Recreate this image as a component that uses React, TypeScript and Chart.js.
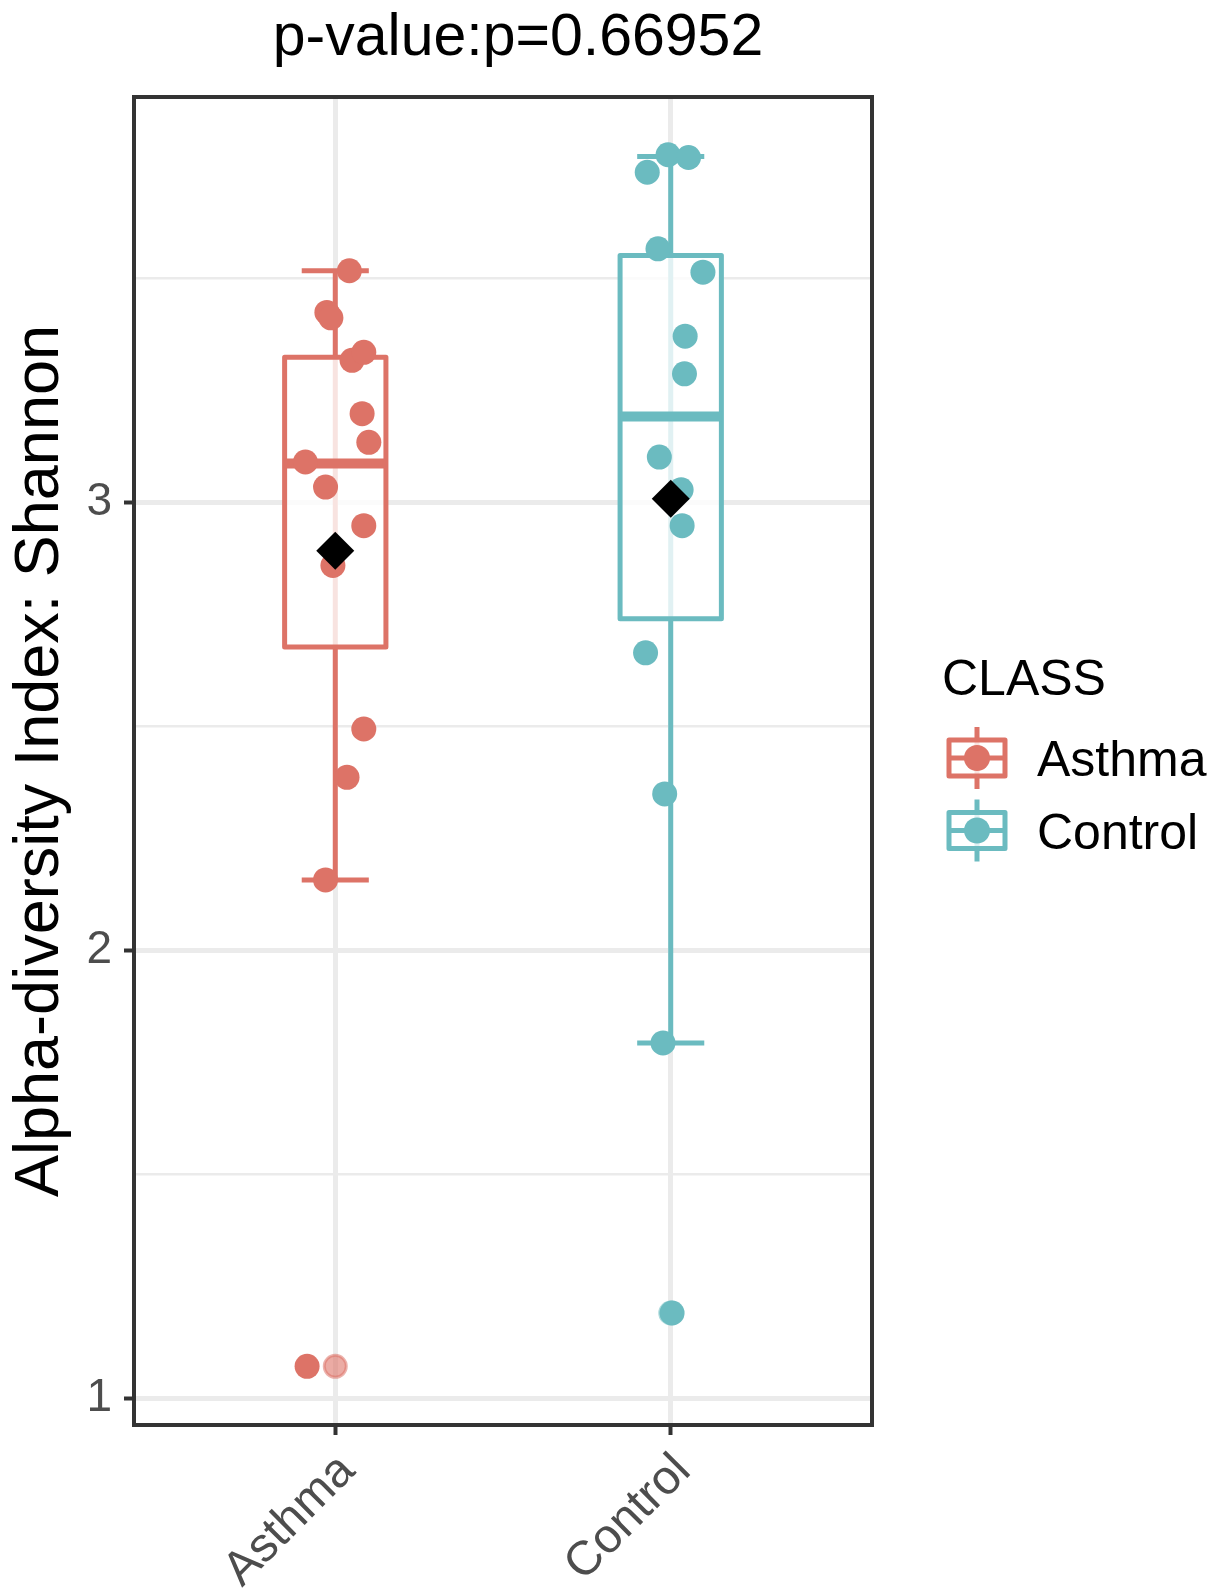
import React, { useEffect, useRef } from "react";
import { Chart, registerables } from "chart.js";
Chart.register(...registerables);

// ---------- data ----------
const categories = ["Asthma", "Control"];
const chartTitle = "p-value:p=0.66952";
const yAxisTitle = "Alpha-diversity Index: Shannon";
const legendTitle = "CLASS";

const yMajorTicks = [1, 2, 3];
const yMinorTicks = [1.5, 2.5, 3.5];
const xTicks = [1, 2];

// jittered sample points (x = category position + jitter, y = Shannon index)
const asthmaX = [1.042, 0.975, 0.987, 1.05, 1.085, 1.08, 1.1, 0.911, 0.971, 1.085, 0.993, 1.085, 1.035, 0.971, 0.916];
const asthmaY = [3.517, 3.424, 3.412, 3.317, 3.335, 3.198, 3.134, 3.09, 3.034, 2.948, 2.859, 2.494, 2.386, 2.157, 1.071];
const controlX = [1.992, 2.053, 1.93, 1.962, 2.096, 2.043, 2.041, 1.966, 2.031, 2.034, 1.925, 1.982, 1.977, 2.004];
const controlY = [3.776, 3.77, 3.737, 3.566, 3.514, 3.371, 3.287, 3.101, 3.028, 2.948, 2.664, 2.349, 1.793, 1.19];

// boxplot statistics per category: [lower whisker, Q1, median, Q3, upper whisker]
const asthmaBox = [2.157, 2.677, 3.087, 3.324, 3.517];
const controlBox = [1.793, 2.74, 3.1915, 3.551, 3.772];
const asthmaOutliers = [1.071];
const controlOutliers = [1.19];
const groupMeans = [2.892, 3.008];

// ---------- styles ----------
const FONT = "'Liberation Sans', Arial, Helvetica, sans-serif";
const COLORS = ["#DD7367", "#6BBBC0"];
const OUTLIER_FILL = ["rgba(221,115,103,0.6)", "rgba(107,187,192,0.6)"];
const GRID = "#EBEBEB";
const DARK = "#333333";
const BOX_HALF = 0.151;
const CAP_HALF = 0.1;
const XTICK_FONT = 48;

const boxes = [asthmaBox, controlBox];

const boxPlugin = {
  id: "boxplots",
  beforeDatasetsDraw(chart: any) {
    const { ctx, chartArea } = chart;
    const xs = chart.scales.x;
    const ys = chart.scales.y;
    ctx.save();
    ctx.beginPath();
    ctx.rect(chartArea.left, chartArea.top, chartArea.right - chartArea.left, chartArea.bottom - chartArea.top);
    ctx.clip();
    boxes.forEach((b, i) => {
      const c = xTicks[i];
      const col = COLORS[i];
      const px = xs.getPixelForValue(c);
      ctx.strokeStyle = col;
      ctx.lineCap = "butt";
      ctx.lineWidth = 5;
      // error bar: vertical line + caps
      ctx.beginPath();
      ctx.moveTo(px, ys.getPixelForValue(b[0]));
      ctx.lineTo(px, ys.getPixelForValue(b[4]));
      ctx.stroke();
      [b[0], b[4]].forEach((v) => {
        const py = ys.getPixelForValue(v);
        ctx.beginPath();
        ctx.moveTo(xs.getPixelForValue(c - CAP_HALF), py);
        ctx.lineTo(xs.getPixelForValue(c + CAP_HALF), py);
        ctx.stroke();
      });
      // box
      const x0 = xs.getPixelForValue(c - BOX_HALF);
      const x1 = xs.getPixelForValue(c + BOX_HALF);
      const yq3 = ys.getPixelForValue(b[3]);
      const yq1 = ys.getPixelForValue(b[1]);
      ctx.fillStyle = "rgba(255,255,255,0.8)";
      ctx.fillRect(x0, yq3, x1 - x0, yq1 - yq3);
      ctx.lineJoin = "round";
      ctx.lineWidth = 5;
      ctx.strokeRect(x0, yq3, x1 - x0, yq1 - yq3);
      // median
      const ym = ys.getPixelForValue(b[2]);
      ctx.lineWidth = 10;
      ctx.beginPath();
      ctx.moveTo(x0, ym);
      ctx.lineTo(x1, ym);
      ctx.stroke();
    });
    ctx.restore();
  },
};

const framePlugin = {
  id: "frameTitleLegend",
  afterDraw(chart: any) {
    const { ctx, chartArea } = chart;
    const xs = chart.scales.x;
    ctx.save();
    // panel border
    ctx.strokeStyle = DARK;
    ctx.lineWidth = 4;
    ctx.strokeRect(chartArea.left, chartArea.top, chartArea.right - chartArea.left, chartArea.bottom - chartArea.top);
    // x tick labels (rotated 45°, right end anchored at tick)
    ctx.fillStyle = "#4D4D4D";
    ctx.font = `${XTICK_FONT}px ${FONT}`;
    ctx.textAlign = "right";
    ctx.textBaseline = "middle";
    xTicks.forEach((v, i) => {
      const px = xs.getPixelForValue(v);
      ctx.save();
      ctx.translate(px - 8, xs.top + 18);
      ctx.rotate(-Math.PI / 4);
      ctx.fillText(categories[i], 0, (XTICK_FONT * 1.2) / 2);
      ctx.restore();
    });
    // title
    ctx.fillStyle = "#000";
    ctx.font = `59px ${FONT}`;
    ctx.textAlign = "center";
    ctx.textBaseline = "alphabetic";
    ctx.fillText(chartTitle, 518, 55);
    // legend
    ctx.textAlign = "left";
    ctx.font = `50px ${FONT}`;
    ctx.fillText(legendTitle, 942, 695);
    categories.forEach((lab, i) => {
      const cx = 977;
      const cy = 758 + i * 72.5;
      const col = COLORS[i];
      ctx.strokeStyle = col;
      ctx.lineWidth = 5;
      ctx.lineCap = "butt";
      ctx.beginPath();
      ctx.moveTo(cx, cy - 31);
      ctx.lineTo(cx, cy + 31);
      ctx.stroke();
      ctx.fillStyle = "rgba(255,255,255,0.8)";
      ctx.fillRect(cx - 28, cy - 18, 56, 36);
      ctx.lineJoin = "round";
      ctx.strokeRect(cx - 28, cy - 18, 56, 36);
      ctx.beginPath();
      ctx.moveTo(cx - 28, cy);
      ctx.lineTo(cx + 28, cy);
      ctx.stroke();
      ctx.fillStyle = col;
      ctx.beginPath();
      ctx.arc(cx, cy, 13, 0, Math.PI * 2);
      ctx.fill();
      ctx.fillStyle = "#000";
      ctx.font = `50px ${FONT}`;
      ctx.fillText(lab, 1037, cy + 18);
    });
    ctx.restore();
  },
};

const isMajorY = (v: number) => yMajorTicks.includes(v);

export default function App() {
  const ref = useRef<HTMLCanvasElement | null>(null);
  useEffect(() => {
    if (!ref.current) return;
    const toPts = (xs: number[], ys: number[]) => xs.map((x, i) => ({ x, y: ys[i] }));
    const chart = new Chart(ref.current, {
      type: "scatter",
      data: {
        datasets: [
          {
            label: "Asthma outliers",
            data: asthmaOutliers.map((y) => ({ x: xTicks[0], y })),
            backgroundColor: OUTLIER_FILL[0],
            borderColor: "rgba(221,115,103,0.55)",
            borderWidth: 3,
            pointRadius: 11,
            order: 4,
          },
          {
            label: "Control outliers",
            data: controlOutliers.map((y) => ({ x: xTicks[1], y })),
            backgroundColor: OUTLIER_FILL[1],
            borderColor: "rgba(107,187,192,0.55)",
            borderWidth: 3,
            pointRadius: 11,
            order: 4,
          },
          {
            label: "Asthma",
            data: toPts(asthmaX, asthmaY),
            backgroundColor: COLORS[0],
            borderWidth: 0,
            pointRadius: 12.5,
            order: 3,
          },
          {
            label: "Control",
            data: toPts(controlX, controlY),
            backgroundColor: COLORS[1],
            borderWidth: 0,
            pointRadius: 12.5,
            order: 2,
          },
          {
            label: "Mean",
            data: groupMeans.map((y, i) => ({ x: xTicks[i], y })),
            backgroundColor: "#000",
            borderWidth: 0,
            pointStyle: "rectRot",
            pointRadius: 19,
            order: 1,
          },
        ],
      },
      options: {
        animation: false,
        responsive: false,
        devicePixelRatio: 1,
        layout: { padding: { top: 97, right: 345, left: 0, bottom: 0 } },
        plugins: { legend: { display: false }, tooltip: { enabled: false }, title: { display: false } },
        scales: {
          x: {
            type: "linear",
            min: 0.4,
            max: 2.6,
            afterBuildTicks: (s: any) => {
              s.ticks = xTicks.map((v) => ({ value: v }));
            },
            afterFit: (s: any) => {
              s.height = 168;
            },
            border: { display: false },
            grid: {
              color: GRID,
              lineWidth: 5,
              tickColor: DARK,
              tickWidth: 4,
              tickLength: 10,
            },
            ticks: {
              autoSkip: false,
              maxRotation: 0,
              color: "rgba(0,0,0,0)",
              font: { family: FONT, size: XTICK_FONT },
              callback: (v: any) => categories[Number(v) - 1] ?? "",
            },
          },
          y: {
            type: "linear",
            min: 0.94,
            max: 3.905,
            afterBuildTicks: (s: any) => {
              s.ticks = [...yMajorTicks, ...yMinorTicks].sort((a, b) => a - b).map((v) => ({ value: v }));
            },
            afterFit: (s: any) => {
              s.width = 134;
            },
            border: { display: false },
            grid: {
              color: GRID,
              lineWidth: (c: any) => (isMajorY(c.tick?.value) ? 5 : 2.5),
              tickColor: (c: any) => (isMajorY(c.tick?.value) ? DARK : "rgba(0,0,0,0)"),
              tickWidth: 4,
              tickLength: 10,
            },
            ticks: {
              autoSkip: false,
              padding: 12,
              color: "#4D4D4D",
              font: { family: FONT, size: 46 },
              callback: (v: any) => (isMajorY(Number(v)) ? String(v) : ""),
            },
            title: {
              display: true,
              text: yAxisTitle,
              color: "#000",
              font: { family: FONT, size: 63 },
              padding: { top: 3, bottom: 0 },
            },
          },
        },
      },
      plugins: [boxPlugin, framePlugin],
    } as any);
    return () => chart.destroy();
  }, []);
  return (
    <div style={{ position: "absolute", left: 0, top: 0, width: 1217, height: 1593, background: "#fff" }}>
      <canvas ref={ref} width={1217} height={1593} style={{ width: 1217, height: 1593, display: "block" }} />
    </div>
  );
}
